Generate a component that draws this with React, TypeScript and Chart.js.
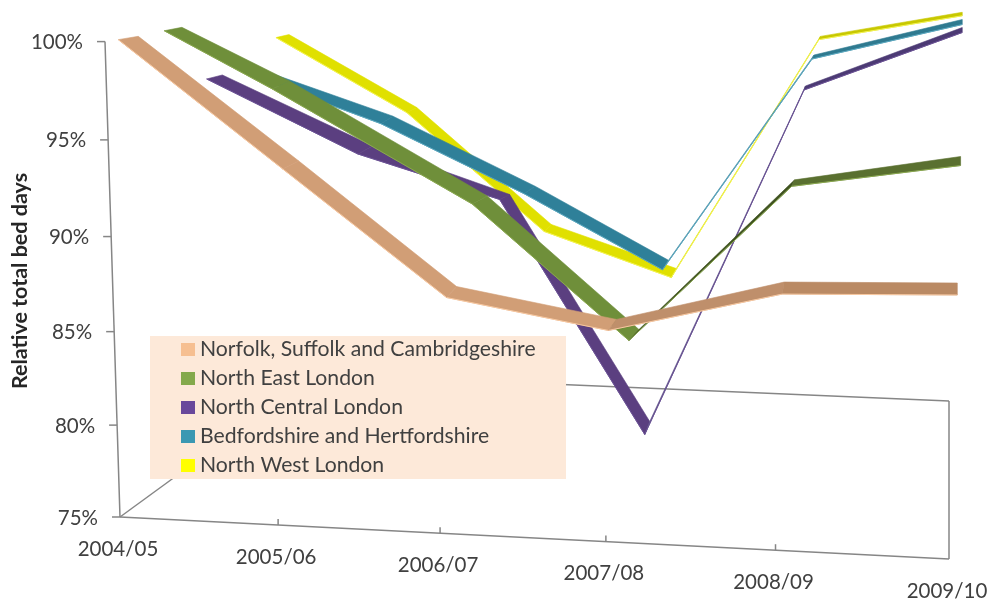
import { useEffect, useRef } from "react";
import { Chart, registerables } from "chart.js";

Chart.register(...registerables);

const years = ["2004/05", "2005/06", "2006/07", "2007/08", "2008/09", "2009/10"];
const percentTicks = [100, 95, 90, 85, 80, 75];

const seriesNames = [
  "Norfolk, Suffolk and Cambridgeshire",
  "North East London",
  "North Central London",
  "Bedfordshire and Hertfordshire",
  "North West London",
];
const legendColors = ["#f6bf91", "#84a94b", "#69489b", "#3b98b2", "#ffff00"];

// Apparent position of each ribbon's centre line, in year units and percent.
const norfolkX = [0.05, 1.03, 2.0, 2.97, 4.0, 5.05];
const norfolkY = [100.19, 93.51, 86.83, 85.1, 87.04, 86.99];
const northEastX = [0.32, 0.97, 2.17, 3.1, 4.06, 5.07];
const northEastY = [100.66, 97.72, 91.67, 84.57, 92.56, 93.72];
const northCentralX = [0.57, 1.48, 2.32, 3.18, 4.13, 5.08];
const northCentralY = [98.14, 94.3, 91.83, 79.68, 97.56, 100.61];
const bedfordX = [0.81, 1.61, 2.47, 3.29, 4.18, 5.08];
const bedfordY = [98.4, 95.88, 92.2, 88.25, 99.19, 101.03];
const northWestX = [0.98, 1.76, 2.58, 3.34, 4.22, 5.08];
const northWestY = [100.29, 96.4, 90.2, 87.83, 100.19, 101.45];

const seriesX = [norfolkX, northEastX, northCentralX, bedfordX, northWestX];
const seriesY = [norfolkY, northEastY, northCentralY, bedfordY, northWestY];

// Screen-space depth of each ribbon at each year: the third dimension of the chart.
const ribbonDepth = [
  [[20, -3.3], [16, -8], [10, -11], [8, -11], [2, -12], [0, -12]],
  [[17.7, -3.4], [17, -8], [15, -8], [10, -11], [3, -6.5], [0, -9]],
  [[15.7, -4], [15, -8], [10, -5], [5, -13], [1.5, -4], [0, -5]],
  [[12, -5], [12, -7.5], [11, -7.5], [6, -9.5], [2, -4], [0, -5]],
  [[13, -3], [10, -5], [7, -7], [5, -9], [1.5, -3.2], [0, -3.5]],
];

// Face colour per segment; faces turned away from the light are darker.
const faceColors = [
  ["#d19e76", "#d19e76", "#d19e76", "#bf8f6b", "#ba8a64"],
  ["#6f8f3a", "#6f8f3a", "#6f8f3a", "#3f5220", "#5a7030"],
  ["#5b3f80", "#5b3f80", "#5b3f80", "#5d5087", "#4c3a74"],
  ["#2f8099", "#2f8099", "#2f8099", "#4a8fa5", "#2f7a90"],
  ["#e0e000", "#e0e000", "#e0e000", "#d8dc10", "#c8c800"],
];
const lowerEdgeColors = ["#f8c8a0", "#8aa84e", "#6a5095", "#5aa8c0", "#f4f450"];

const INK = "#404040";
const FRAME = "#868686";
const FONT = "Lato, sans-serif";

const ribbons = {
  id: "ribbons",
  beforeDatasetDraw(chart: any, args: any) {
    const i = args.index;
    const pts = chart.getDatasetMeta(i).data;
    const depth = ribbonDepth[i];
    const c = chart.ctx;
    c.save();
    for (let s = 0; s < pts.length - 1; s++) {
      const a = pts[s];
      const b = pts[s + 1];
      const [ax, ay] = depth[s];
      const [bx, by] = depth[s + 1];
      c.beginPath();
      c.moveTo(a.x - ax / 2, a.y - ay / 2);
      c.lineTo(b.x - bx / 2, b.y - by / 2);
      c.lineTo(b.x + bx / 2, b.y + by / 2);
      c.lineTo(a.x + ax / 2, a.y + ay / 2);
      c.closePath();
      c.fillStyle = faceColors[i][s];
      c.strokeStyle = faceColors[i][s];
      c.lineWidth = 0.6;
      c.fill();
      c.stroke();
      c.beginPath();
      c.moveTo(a.x - ax / 2, a.y - ay / 2);
      c.lineTo(b.x - bx / 2, b.y - by / 2);
      c.strokeStyle = lowerEdgeColors[i];
      c.lineWidth = 1;
      c.stroke();
    }
    c.restore();
    return false;
  },
};

const frame = {
  id: "frame",
  beforeDatasetsDraw(chart: any) {
    const c = chart.ctx;
    const { x, y } = chart.scales;
    const x0 = x.getPixelForValue(0);
    const x5 = x.getPixelForValue(5);
    const yBase = y.getPixelForValue(75);
    const yTop = y.getPixelForValue(100);
    const floorY = (px: number) => yBase + ((px - x0) * 42) / (x5 - x0);
    const wallX = (py: number) => x0 - ((yBase - py) * 15) / (yBase - yTop);

    c.save();
    c.strokeStyle = FRAME;
    c.lineWidth = 1.5;
    const line = (a: number, b: number, d: number, e: number) => {
      c.beginPath();
      c.moveTo(a, b);
      c.lineTo(d, e);
      c.stroke();
    };
    // Value wall edge, floor outline and the far side of the floor.
    line(wallX(yTop), yTop, x0, yBase);
    line(x0, yBase, x5, floorY(x5));
    line(x5, floorY(x5), x5, 401);
    line(x5, 401, 316, 374);
    line(316, 374, x0, yBase);

    // Value ticks follow the slant and slight perspective sag of the wall.
    c.fillStyle = INK;
    c.font = `20.5px ${FONT}`;
    c.textAlign = "right";
    c.textBaseline = "middle";
    percentTicks.forEach((v) => {
      const t = (100 - v) / 25;
      const py = y.getPixelForValue(v) + 4 * t * (1 - t) * 5;
      const ax = wallX(py);
      line(ax - 8, py, ax, py);
      c.fillText(`${v}%`, ax - 22, py + 1);
    });

    // Year ticks along the floor edge, squeezed slightly by the perspective.
    c.textAlign = "center";
    years.forEach((label, i) => {
      const t = i / 5;
      const px = x.getPixelForValue(i) - 4 * t * (1 - t) * 12;
      const py = floorY(px);
      if (i > 0 && i < 5) line(px, py, px, py - 6);
      c.fillText(label, px - 2, py + 32);
    });

    c.save();
    c.translate(20, 281);
    c.rotate(-Math.PI / 2);
    c.font = `bold 21.5px ${FONT}`;
    c.fillStyle = "#262626";
    c.fillText("Relative total bed days", 0, 0);
    c.restore();
    c.restore();
  },
};

const legendBox = {
  id: "legendBox",
  afterDraw(chart: any) {
    const c = chart.ctx;
    c.save();
    c.fillStyle = "#fde9d9";
    c.fillRect(150, 336, 416, 143);
    c.font = `21.2px ${FONT}`;
    c.textBaseline = "middle";
    c.textAlign = "left";
    seriesNames.forEach((name, i) => {
      const cy = 349.5 + i * 29;
      c.fillStyle = legendColors[i];
      c.fillRect(181, cy - 6.5, 14, 13);
      c.fillStyle = INK;
      c.fillText(name, 200, cy);
    });
    c.restore();
  },
};

export default function App() {
  const ref = useRef<HTMLCanvasElement>(null);
  useEffect(() => {
    const chart = new Chart(ref.current!, {
      type: "line",
      data: {
        datasets: seriesNames.map((label, i) => ({
          label,
          data: seriesX[i].map((x, k) => ({ x, y: seriesY[i][k] })),
          borderColor: legendColors[i],
          backgroundColor: legendColors[i],
          pointRadius: 0,
          clip: false,
        })),
      },
      options: {
        responsive: false,
        animation: false,
        layout: { padding: { left: 120, right: 42, top: 41.6, bottom: 83 } },
        scales: {
          x: { type: "linear", min: 0, max: 5, display: false },
          y: { type: "linear", min: 75, max: 100, display: false },
        },
        plugins: { legend: { display: false }, tooltip: { enabled: false } },
      },
      plugins: [frame, ribbons, legendBox],
    } as any);
    return () => chart.destroy();
  }, []);
  return (
    <div style={{ position: "absolute", left: 0, top: 0, width: 991, height: 600, background: "#fff" }}>
      <canvas ref={ref} width={991} height={600} style={{ display: "block" }} />
    </div>
  );
}
